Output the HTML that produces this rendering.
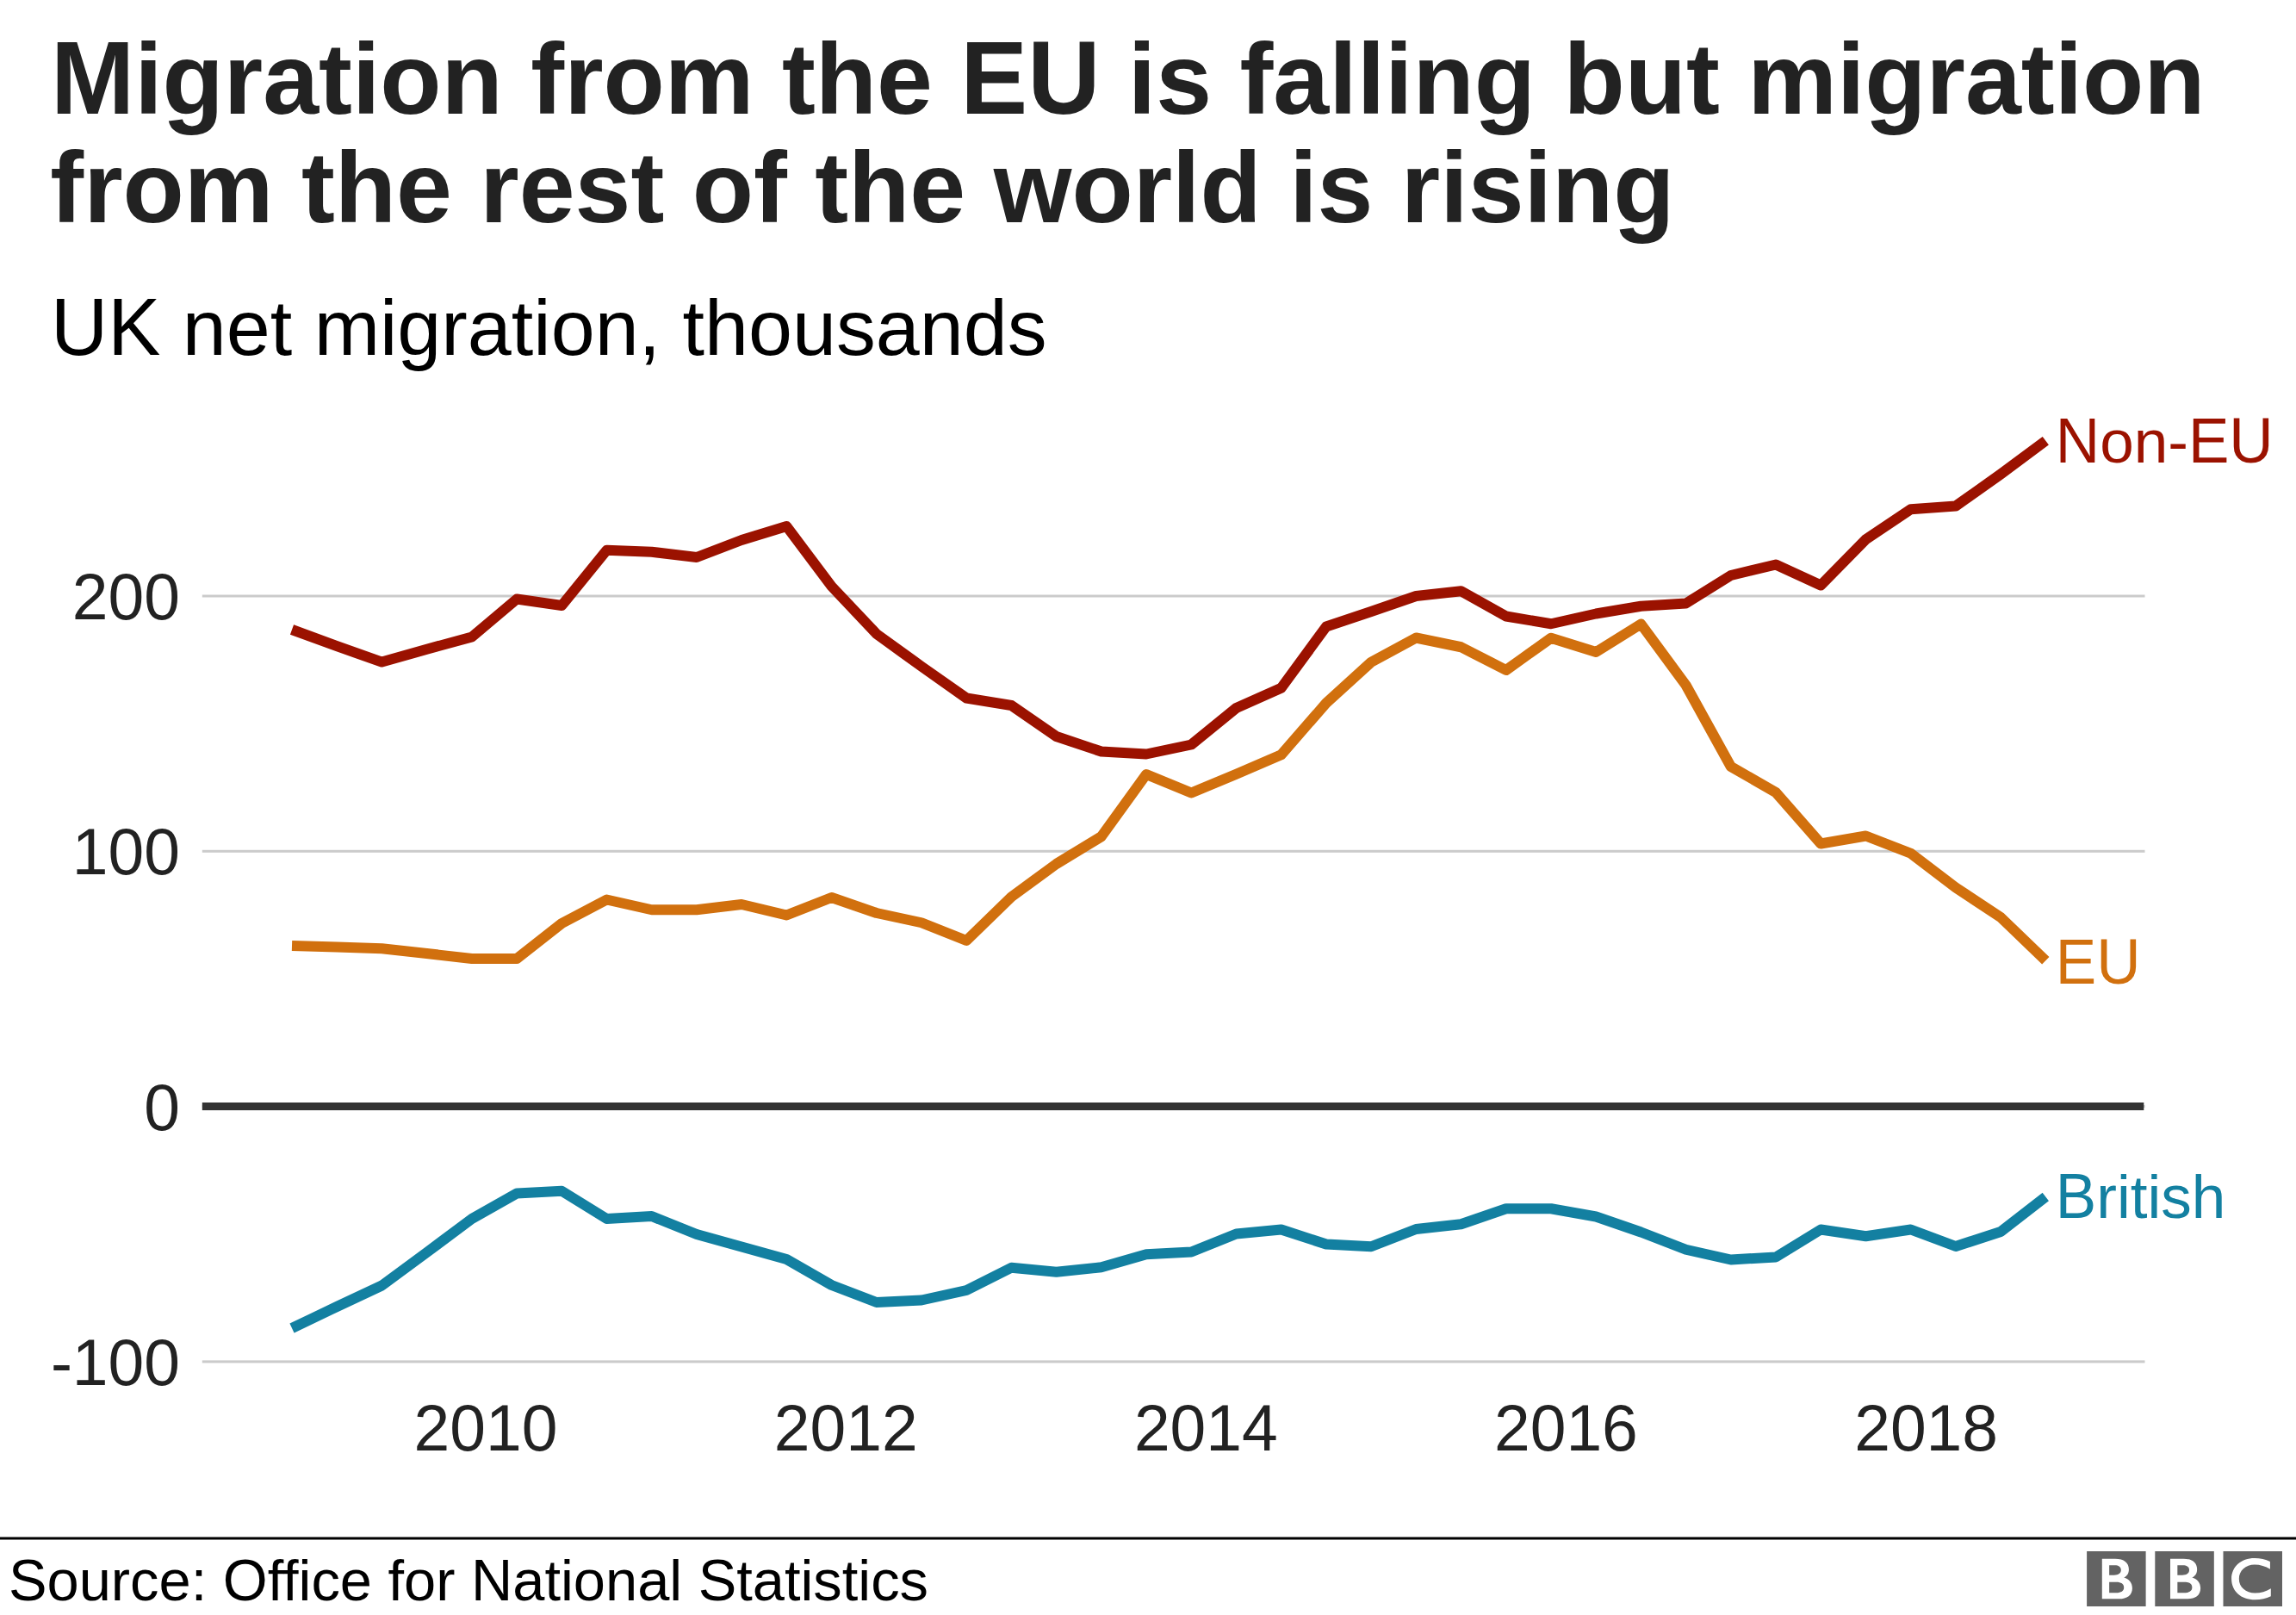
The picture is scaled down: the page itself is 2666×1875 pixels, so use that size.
<!DOCTYPE html>
<html lang="en">
<head>
<meta charset="utf-8">
<title>Migration from the EU is falling but migration from the rest of the world is rising</title>
<style>
html,body{margin:0;padding:0;background:#ffffff;}
body{width:2666px;height:1875px;overflow:hidden;font-family:"Liberation Sans",sans-serif;}
svg{display:block;position:absolute;left:0;top:0;}
svg text{font-family:"Liberation Sans",sans-serif;}
.title{font-weight:bold;font-size:116.67px;fill:#222222;}
.sub{font-size:91.67px;fill:#000000;}
.ax{font-size:75px;fill:#222222;}
.lab{font-size:71.1px;}
.src{font-size:66.8px;fill:#000000;}
</style>
</head>
<body>
<svg width="2666" height="1875" viewBox="0 0 2666 1875">
<rect x="0" y="0" width="2666" height="1875" fill="#ffffff"/>
<text class="title" transform="translate(59.00,132) scale(1,1.04)">M</text>
<text class="title" x="156.17" y="132">igration from the</text>
<text class="title" transform="translate(1115.33,132) scale(1,1.04)">EU</text>
<text class="title" x="1309.80" y="132">is falling but migration</text>
<text class="title" x="58.30" y="258">from the rest of the world is rising</text>
<text class="sub" transform="translate(59.00,411.75) scale(1,1.04)">UK</text>
<text class="sub" x="211.78" y="411.75">net migration, thousands</text>
<rect x="234.8" y="690.50" width="2255.7" height="3" fill="#cbcbcb"/>
<rect x="234.8" y="986.80" width="2255.7" height="3" fill="#cbcbcb"/>
<rect x="234.8" y="1579.40" width="2255.7" height="3" fill="#cbcbcb"/>
<rect x="234.8" y="1283.00" width="2255.7" height="3" fill="#cbcbcb"/>
<text class="ax" transform="translate(209,719.00) scale(1,1.02)" text-anchor="end">200</text>
<text class="ax" transform="translate(209,1015.30) scale(1,1.02)" text-anchor="end">100</text>
<text class="ax" transform="translate(209,1607.90) scale(1,1.02)" text-anchor="end">-100</text>
<text class="ax" transform="translate(209,1311.50) scale(1,1.02)" text-anchor="end">0</text>
<polyline points="339.0,1542.00 391.2,1517.00 443.4,1492.50 495.6,1454.00 547.9,1415.00 600.1,1385.50 652.3,1382.75 704.5,1415.00 756.7,1412.00 808.9,1433.00 861.1,1447.50 913.3,1462.00 965.6,1492.00 1017.8,1512.00 1070.0,1509.50 1122.2,1498.00 1174.4,1471.75 1226.6,1476.75 1278.8,1471.25 1331.0,1456.25 1383.3,1453.50 1435.5,1432.50 1487.7,1427.50 1539.9,1444.50 1592.1,1447.25 1644.3,1427.00 1696.5,1421.25 1748.8,1403.25 1801.0,1403.25 1853.2,1412.50 1905.4,1430.50 1957.6,1450.75 2009.8,1462.50 2062.0,1459.50 2114.2,1427.50 2166.5,1435.25 2218.7,1427.50 2270.9,1447.00 2323.1,1430.00 2375.3,1389.50" fill="none" stroke="#1380A1" stroke-width="12.0" stroke-linejoin="round" stroke-linecap="butt"/>
<polyline points="339.0,1098.00 391.2,1099.60 443.4,1101.25 495.6,1107.00 547.9,1113.00 600.1,1113.00 652.3,1072.00 704.5,1044.50 756.7,1056.25 808.9,1056.25 861.1,1050.00 913.3,1062.50 965.6,1042.00 1017.8,1060.00 1070.0,1071.25 1122.2,1092.00 1174.4,1041.25 1226.6,1003.00 1278.8,971.25 1331.0,899.00 1383.3,920.50 1435.5,898.75 1487.7,876.25 1539.9,816.25 1592.1,768.75 1644.3,740.50 1696.5,751.25 1748.8,778.00 1801.0,740.75 1853.2,757.00 1905.4,724.50 1957.6,795.50 2009.8,890.00 2062.0,920.00 2114.2,979.50 2166.5,970.50 2218.7,990.75 2270.9,1030.50 2323.1,1065.00 2375.3,1115.25" fill="none" stroke="#D1700E" stroke-width="12.0" stroke-linejoin="round" stroke-linecap="butt"/>
<polyline points="339.0,731.00 391.2,750.20 443.4,768.60 495.6,753.75 547.9,739.50 600.1,695.50 652.3,703.00 704.5,638.75 756.7,640.75 808.9,647.00 861.1,627.00 913.3,611.00 965.6,680.75 1017.8,736.00 1070.0,773.75 1122.2,810.50 1174.4,819.00 1226.6,855.00 1278.8,872.50 1331.0,875.50 1383.3,864.50 1435.5,822.00 1487.7,798.75 1539.9,727.50 1592.1,710.00 1644.3,692.00 1696.5,686.25 1748.8,715.50 1801.0,724.25 1853.2,712.50 1905.4,703.75 1957.6,700.50 2009.8,668.00 2062.0,655.50 2114.2,679.50 2166.5,626.25 2218.7,591.25 2270.9,587.50 2323.1,550.50 2375.3,511.75" fill="none" stroke="#9B1200" stroke-width="12.0" stroke-linejoin="round" stroke-linecap="butt"/>
<rect x="234.8" y="1280.00" width="2254.5" height="9" fill="#333333"/>
<text class="lab" fill="#9B1200" transform="translate(2386.80,537) scale(1,1.03)">N</text>
<text class="lab" fill="#9B1200" x="2438.13" y="537">on-</text>
<text class="lab" fill="#9B1200" transform="translate(2540.89,537) scale(1,1.03)">EU</text>
<text class="lab" fill="#D1700E" transform="translate(2386.80,1141.75) scale(1,1.03)">EU</text>
<text class="lab" fill="#1380A1" transform="translate(2386.80,1414.25) scale(1,1.03)">B</text>
<text class="lab" fill="#1380A1" x="2434.21" y="1414.25">ritish</text>
<text class="ax" transform="translate(564,1684.4) scale(1,1.02)" text-anchor="middle">2010</text>
<text class="ax" transform="translate(982.2,1684.4) scale(1,1.02)" text-anchor="middle">2012</text>
<text class="ax" transform="translate(1400.3,1684.4) scale(1,1.02)" text-anchor="middle">2014</text>
<text class="ax" transform="translate(1818.4,1684.4) scale(1,1.02)" text-anchor="middle">2016</text>
<text class="ax" transform="translate(2236.6,1684.4) scale(1,1.02)" text-anchor="middle">2018</text>
<rect x="0" y="1784.5" width="2666" height="3" fill="#000000"/>
<text class="src" transform="translate(10.00,1858.25) scale(1,1.025)">S</text>
<text class="src" x="54.55" y="1858.25">ource:</text>
<text class="src" transform="translate(258.75,1858.25) scale(1,1.025)">O</text>
<text class="src" x="310.70" y="1858.25">ffice for</text>
<text class="src" transform="translate(547.08,1858.25) scale(1,1.025)">N</text>
<text class="src" x="595.31" y="1858.25">ational</text>
<text class="src" transform="translate(810.70,1858.25) scale(1,1.025)">S</text>
<text class="src" x="855.27" y="1858.25">tatistics</text>
<rect x="2423.1" y="1801" width="68.5" height="64" fill="#636363"/>
<rect x="2502.3" y="1801" width="68.5" height="64" fill="#636363"/>
<rect x="2581.5" y="1801" width="68.5" height="64" fill="#636363"/>
<path transform="translate(2423.1,1801) scale(0.12456)" d="M142,70 H265 C345,70 392,105 392,168 C392,205 375,232 345,245 C395,258 424,295 424,345 C424,410 375,444 300,444 H142 Z M209,130 V222 H254 C295,222 319,205 319,175 C319,146 297,130 259,130 Z M209,287 V387 H274 C320,387 346,370 346,337 C346,304 320,287 274,287 Z" fill="#ffffff" fill-rule="evenodd"/>
<path transform="translate(2502.3,1801) scale(0.12456)" d="M142,70 H265 C345,70 392,105 392,168 C392,205 375,232 345,245 C395,258 424,295 424,345 C424,410 375,444 300,444 H142 Z M209,130 V222 H254 C295,222 319,205 319,175 C319,146 297,130 259,130 Z M209,287 V387 H274 C320,387 346,370 346,337 C346,304 320,287 274,287 Z" fill="#ffffff" fill-rule="evenodd"/>
<path transform="translate(2581.5,1801) scale(0.12456)" d="M437,97 C395,75 345,64 292,64 C165,64 77,145 77,257 C77,372 165,452 297,452 C350,452 400,442 444,420 V347 C400,375 350,389 297,389 C210,389 147,335 147,257 C147,180 210,124 292,124 C345,124 395,140 437,167 Z" fill="#ffffff" fill-rule="evenodd"/>
</svg>
</body>
</html>
